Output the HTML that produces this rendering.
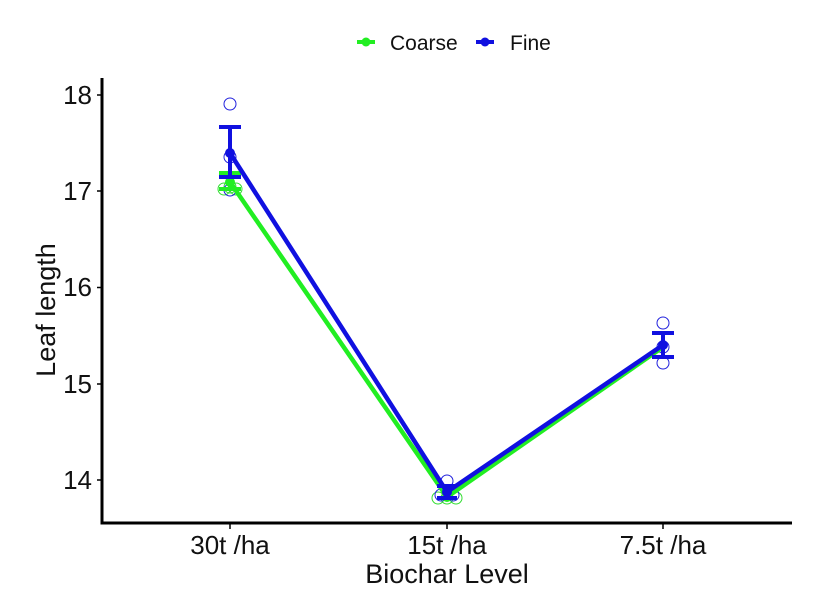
<!DOCTYPE html>
<html><head><meta charset="utf-8"><style>body{margin:0;background:#fff}svg{display:block}text{font-family:"Liberation Sans",sans-serif}</style></head><body>
<svg width="826" height="613" viewBox="0 0 826 613">
<rect width="826" height="613" fill="#fff"/>
<line x1="102" y1="78" x2="102" y2="524" stroke="#000" stroke-width="3"/>
<line x1="100.5" y1="523" x2="792" y2="523" stroke="#000" stroke-width="3"/>
<g stroke="#000" stroke-width="1.5">
<line x1="97" y1="95" x2="102" y2="95"/><line x1="97" y1="191" x2="102" y2="191"/><line x1="97" y1="287.5" x2="102" y2="287.5"/><line x1="97" y1="384" x2="102" y2="384"/><line x1="97" y1="480" x2="102" y2="480"/>
<line x1="230" y1="523" x2="230" y2="529"/><line x1="447" y1="523" x2="447" y2="529"/><line x1="663" y1="523" x2="663" y2="529"/>
</g>
<g font-size="26" fill="#111" text-anchor="end">
<text x="92" y="104">18</text><text x="92" y="200">17</text><text x="92" y="296">16</text><text x="92" y="393">15</text><text x="92" y="489">14</text>
</g>
<g font-size="26" fill="#111" text-anchor="middle">
<text x="230" y="554">30t /ha</text><text x="447" y="554">15t /ha</text><text x="663" y="554">7.5t /ha</text>
<text x="447" y="583" font-size="27">Biochar Level</text>
<text transform="translate(55 310) rotate(-90)" font-size="27">Leaf length</text>
</g>
<g fill="none" stroke="#33dd33" stroke-width="1">
<circle cx="224" cy="189" r="6"/><circle cx="236" cy="189" r="6"/><circle cx="230" cy="187" r="6"/>
<circle cx="438" cy="498" r="6"/><circle cx="447" cy="498" r="6"/><circle cx="456" cy="498" r="6"/>
</g>
<g fill="none" stroke="#2222dd" stroke-width="1">
<circle cx="230" cy="104" r="6"/><circle cx="230" cy="157" r="6"/><circle cx="230" cy="190" r="6"/>
<circle cx="447" cy="481" r="6"/><circle cx="441" cy="495" r="6"/><circle cx="453" cy="495" r="6"/>
<circle cx="663" cy="323" r="6"/><circle cx="663" cy="347" r="6"/><circle cx="663" cy="363" r="6"/>
</g>
<polyline points="230,182 447,497 663,347" fill="none" stroke="#22ee22" stroke-width="4.5"/>
<g stroke="#22ee22" stroke-width="4"><line x1="230" y1="173" x2="230" y2="189"/><line x1="219" y1="173" x2="241" y2="173"/><line x1="219" y1="189" x2="241" y2="189"/></g>
<circle cx="230" cy="182" r="5" fill="#22ee22"/><circle cx="447" cy="497" r="5" fill="#22ee22"/>
<polyline points="230,153 447,492 663,345" fill="none" stroke="#1010e0" stroke-width="4.5"/>
<g stroke="#1010e0" stroke-width="4">
<line x1="230" y1="127" x2="230" y2="177"/><line x1="219" y1="127" x2="241" y2="127"/><line x1="219" y1="177" x2="241" y2="177"/>
<line x1="447" y1="486" x2="447" y2="498"/><line x1="437" y1="486" x2="457" y2="486"/><line x1="437" y1="498" x2="457" y2="498"/>
<line x1="663" y1="333" x2="663" y2="357"/><line x1="652" y1="333" x2="674" y2="333"/><line x1="652" y1="357" x2="674" y2="357"/>
</g>
<circle cx="230" cy="153" r="5" fill="#1010e0"/><circle cx="447" cy="492" r="5" fill="#1010e0"/><circle cx="663" cy="345" r="5" fill="#1010e0"/>
<line x1="357" y1="42" x2="375" y2="42" stroke="#22ee22" stroke-width="4"/><circle cx="366" cy="42" r="4.5" fill="#22ee22"/>
<text x="390" y="50" font-size="21" fill="#111">Coarse</text>
<line x1="476" y1="42" x2="494" y2="42" stroke="#1010e0" stroke-width="4"/><circle cx="485" cy="42" r="4.5" fill="#1010e0"/>
<text x="510" y="50" font-size="21" fill="#111">Fine</text>
</svg>
</body></html>
